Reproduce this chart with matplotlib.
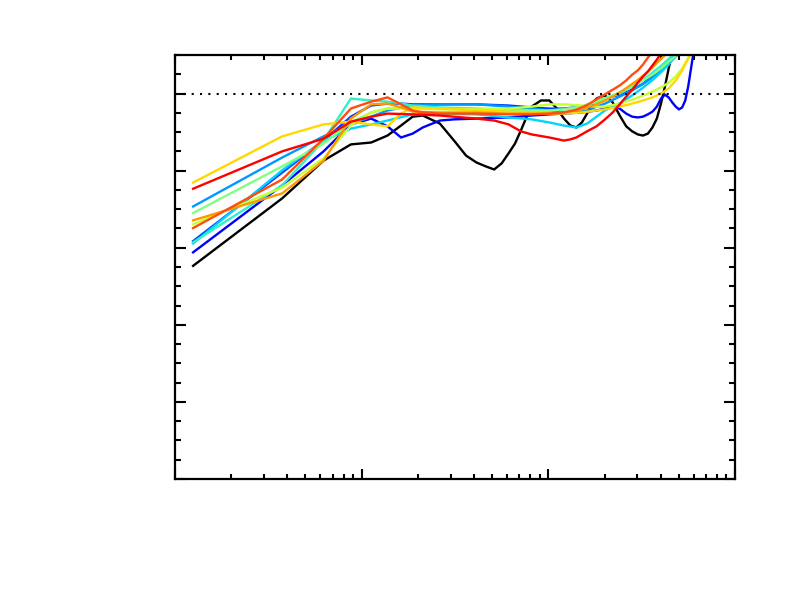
import numpy as np
import matplotlib
matplotlib.use("Agg")
import matplotlib.pyplot as plt
from matplotlib.ticker import LogLocator, MultipleLocator, NullFormatter

# --- data (x: frequency, log axis; y: normalised ratio) ---
black_x = [0.125, 0.375, 0.625, 0.875, 1.125, 1.375, 1.625, 1.875, 2.125, 2.625, 3.125, 3.625,
           4.125, 4.625, 5.125, 5.625, 6.125, 6.625, 7.125, 7.625, 8.125, 9.125, 10.125, 11.125,
           12.125, 13.125, 14.125, 15.125, 16.125, 17.125, 18.125, 19.125, 20.125, 22.125, 24.125,
           26.125, 28.125, 30.125, 32.125, 34.125, 36.125, 38.125, 40.125, 42.125, 44.125, 46.125]
black_y = [0.553, 0.728, 0.826, 0.868, 0.873, 0.891, 0.917, 0.940, 0.943, 0.922, 0.878, 0.839,
           0.821, 0.811, 0.803, 0.819, 0.845, 0.870, 0.904, 0.938, 0.966, 0.982, 0.982, 0.961,
           0.935, 0.917, 0.912, 0.925, 0.948, 0.974, 0.987, 0.992, 0.995, 0.977, 0.943,
           0.915, 0.902, 0.894, 0.891, 0.896, 0.912, 0.935, 0.974, 1.018, 1.065, 1.106]

blue_x = [0.125, 0.375, 0.625, 0.875, 1.125, 1.375, 1.625, 1.875, 2.125, 2.625, 3.125, 4.125,
          6.125, 8.125, 10.125, 12.125, 15.125, 18.125, 20.125, 22.125, 24.125, 26.125, 28.125,
          30.125, 32.125, 34.125, 36.125, 38.125, 40.125, 42.125, 44.125, 46.125, 48.125, 50.125,
          52.125, 54.125, 56.125, 58.125, 60.125]
blue_y = [0.588, 0.762, 0.850, 0.920, 0.935, 0.915, 0.886, 0.896, 0.912, 0.930, 0.933, 0.935,
          0.938, 0.943, 0.946, 0.948, 0.951, 0.956, 0.961, 0.966, 0.961, 0.948, 0.940,
          0.938, 0.940, 0.946, 0.953, 0.966, 0.987, 0.997, 0.990, 0.977, 0.966, 0.959,
          0.964, 0.982, 1.018, 1.065, 1.111]

mblue_x = [0.125, 0.375, 0.625, 0.875, 1.125, 1.375, 1.625, 1.875, 2.625, 4.125, 6.125, 8.125,
           10.125, 12.125, 15.125, 18.125, 20.125, 24.125, 28.125, 32.125, 36.125, 40.125, 44.125,
           48.125]
mblue_y = [0.617, 0.795, 0.878, 0.940, 0.969, 0.974, 0.974, 0.972, 0.972, 0.972, 0.969, 0.964,
           0.961, 0.961, 0.966, 0.979, 0.987, 0.997, 1.010, 1.025, 1.045, 1.065, 1.085,
           1.105]

dodger_x = [0.125, 0.375, 0.625, 0.875, 1.125, 1.375, 1.875, 2.625, 4.125, 6.125, 8.125, 10.125,
            12.125, 14.125, 16.125, 18.125, 20.125, 24.125, 28.125, 32.125, 36.125, 40.125,
            44.125, 48.125, 52.125]
dodger_y = [0.707, 0.834, 0.889, 0.920, 0.940, 0.956, 0.969, 0.972, 0.972, 0.966, 0.961, 0.956,
            0.951, 0.951, 0.956, 0.966, 0.974, 0.992, 1.008, 1.025, 1.042, 1.060,
            1.078, 1.096, 1.110]

cyan_x = [0.125, 0.375, 0.625, 0.875, 1.125, 1.375, 1.875, 2.625, 4.125, 6.125, 8.125, 10.125,
          12.125, 14.125, 16.125, 18.125, 20.125, 24.125, 28.125, 32.125, 36.125, 40.125, 44.125,
          48.125, 50.125]
cyan_y = [0.611, 0.801, 0.878, 0.909, 0.920, 0.930, 0.946, 0.948, 0.946, 0.938, 0.933, 0.925,
          0.917, 0.912, 0.922, 0.940, 0.956, 0.975, 0.995, 1.015, 1.035, 1.055, 1.075,
          1.100, 1.110]

turq_x = [0.125, 0.375, 0.625, 0.875, 1.125, 1.375, 1.625, 1.875, 2.625, 4.125, 8.125, 10.125,
          12.125, 15.125, 18.125, 20.125, 24.125, 28.125, 32.125, 36.125, 40.125, 44.125, 48.125]
turq_y = [0.614, 0.762, 0.878, 0.987, 0.982, 0.979, 0.974, 0.969, 0.964, 0.961, 0.956, 0.956,
          0.959, 0.966, 0.979, 0.988, 1.000, 1.018, 1.036, 1.054, 1.072, 1.090, 1.108]

lgreen_x = [0.125, 0.375, 0.625, 0.875, 1.125, 1.375, 1.875, 2.625, 4.125, 6.125, 8.125, 10.125,
            12.125, 15.125, 18.125, 20.125, 24.125, 28.125, 32.125, 36.125, 40.125, 44.125, 48.125]
lgreen_y = [0.690, 0.811, 0.870, 0.925, 0.951, 0.961, 0.964, 0.961, 0.959, 0.956, 0.956, 0.956,
            0.959, 0.966, 0.979, 0.987, 1.003, 1.018, 1.034, 1.049, 1.065, 1.083, 1.098]

ygreen_x = [0.125, 0.375, 0.625, 0.875, 1.125, 1.375, 1.875, 2.625, 4.125, 6.125, 8.125, 10.125,
            12.125, 15.125, 18.125, 20.125, 24.125, 28.125, 32.125, 36.125, 40.125, 44.125,
            48.125, 52.125, 56.125, 58.125]
ygreen_y = [0.661, 0.756, 0.832, 0.917, 0.951, 0.961, 0.961, 0.959, 0.959, 0.961, 0.966, 0.972,
            0.972, 0.969, 0.966, 0.966, 0.974, 0.984, 0.995, 1.005, 1.016, 1.028,
            1.044, 1.065, 1.091, 1.106]

gold_x = [0.125, 0.375, 0.625, 0.875, 1.125, 1.375, 1.625, 1.875, 2.625, 4.125, 6.125, 8.125,
          10.125, 12.125, 15.125, 18.125, 20.125, 24.125, 28.125, 32.125, 36.125, 40.125, 44.125,
          48.125, 52.125, 56.125, 58.125]
gold_y = [0.769, 0.889, 0.920, 0.927, 0.920, 0.915, 0.948, 0.964, 0.961, 0.956, 0.953, 0.951,
          0.948, 0.948, 0.951, 0.956, 0.959, 0.966, 0.974, 0.982, 0.990, 1.000, 1.013,
          1.034, 1.060, 1.091, 1.106]

orange_x = [0.125, 0.375, 0.625, 0.875, 1.125, 1.375, 1.625, 1.875, 2.625, 4.125, 6.125, 8.125,
            10.125, 12.125, 15.125, 18.125, 20.125, 22.125, 24.125, 26.125, 28.125, 30.125,
            32.125, 34.125, 36.125, 38.125, 40.125, 44.125]
orange_y = [0.671, 0.741, 0.826, 0.935, 0.972, 0.974, 0.964, 0.953, 0.951, 0.951, 0.948, 0.948,
            0.948, 0.951, 0.959, 0.972, 0.982, 0.992, 1.003, 1.014, 1.025, 1.035,
            1.046, 1.057, 1.068, 1.079, 1.090, 1.108]

ored_x = [0.125, 0.375, 0.625, 0.875, 1.125, 1.375, 1.625, 1.875, 2.125, 2.625, 4.125, 6.125,
          8.125, 10.125, 12.125, 14.125, 16.125, 18.125, 20.125, 22.125, 24.125, 26.125, 28.125,
          30.125, 32.125, 34.125, 36.125]
ored_y = [0.651, 0.777, 0.883, 0.961, 0.979, 0.990, 0.972, 0.956, 0.951, 0.948, 0.948, 0.946,
          0.946, 0.948, 0.951, 0.958, 0.970, 0.985, 0.998, 1.010, 1.021, 1.034, 1.049,
          1.060, 1.075, 1.093, 1.108]

red_x = [0.125, 0.375, 0.625, 0.875, 1.125, 1.375, 1.875, 2.625, 4.125, 5.125, 6.125, 7.125,
         8.125, 10.125, 12.125, 13.125, 14.125, 16.125, 18.125, 20.125, 22.125, 24.125, 26.125,
         28.125, 30.125, 32.125, 34.125, 36.125, 38.125, 40.125]
red_y = [0.753, 0.850, 0.883, 0.927, 0.940, 0.948, 0.946, 0.943, 0.935, 0.930, 0.920, 0.902,
         0.894, 0.886, 0.878, 0.881, 0.886, 0.902, 0.915, 0.933, 0.951, 0.972, 0.992,
         1.010, 1.028, 1.044, 1.057, 1.073, 1.088, 1.104]

series = [
    (black_x, black_y, "#000000"),
    (blue_x, blue_y, "#0000ff"),
    (mblue_x, mblue_y, "#0040ff"),
    (dodger_x, dodger_y, "#0098ff"),
    (cyan_x, cyan_y, "#00d4ff"),
    (turq_x, turq_y, "#30f0c8"),
    (lgreen_x, lgreen_y, "#80ff80"),
    (ygreen_x, ygreen_y, "#c8ff30"),
    (gold_x, gold_y, "#ffd800"),
    (orange_x, orange_y, "#ff9800"),
    (ored_x, ored_y, "#ff4c10"),
    (red_x, red_y, "#ff0000"),
]

fig = plt.figure(figsize=(7.86, 5.91), dpi=100)
ax = fig.add_axes([175 / 786, 112 / 591, 560 / 786, 424 / 591])

for xs, ys, col in series:
    ax.plot(xs, ys, color=col, lw=1.7, solid_joinstyle="miter")

ax.axhline(1.0, color="black", lw=1.5, ls=(0, (1, 3)))

ax.set_xscale("log")
ax.set_xlim(0.1, 100)
ax.set_ylim(0.0, 1.1)

ax.xaxis.set_major_locator(LogLocator(base=10))
ax.xaxis.set_minor_locator(LogLocator(base=10, subs=np.arange(2, 10)))
ax.yaxis.set_major_locator(MultipleLocator(0.2))
ax.yaxis.set_minor_locator(MultipleLocator(0.05))
ax.xaxis.set_major_formatter(NullFormatter())
ax.xaxis.set_minor_formatter(NullFormatter())
ax.yaxis.set_major_formatter(NullFormatter())

for s in ax.spines.values():
    s.set_linewidth(1.6)

ax.tick_params(which="both", direction="in", top=True, right=True,
               labelbottom=False, labelleft=False, width=1.5)
ax.tick_params(axis="x", which="major", length=7)
ax.tick_params(axis="x", which="minor", length=3.5)
ax.tick_params(axis="y", which="major", length=8)
ax.tick_params(axis="y", which="minor", length=4)

fig.savefig("out.png", dpi=100)
